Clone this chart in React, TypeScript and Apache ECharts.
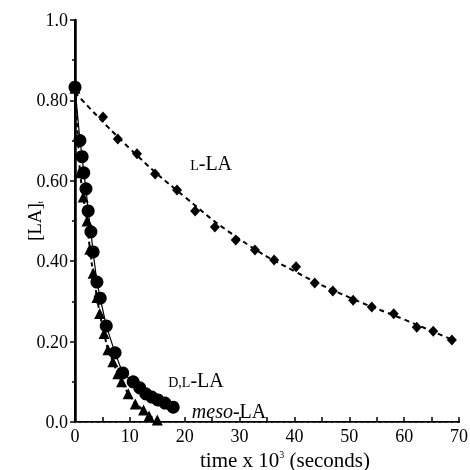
import React, { useEffect, useRef } from "react";
import * as echarts from "echarts";

const lLA: [number, number][] = [
  [5.1, 0.759], [7.8, 0.704], [11.3, 0.667], [14.6, 0.617], [18.6, 0.577],
  [21.9, 0.525], [25.5, 0.485], [29.3, 0.453], [32.8, 0.428], [36.3, 0.403],
  [40.3, 0.386], [43.7, 0.346], [47.0, 0.326], [50.7, 0.303], [54.1, 0.286],
  [58.1, 0.269], [62.3, 0.236], [65.3, 0.226], [68.7, 0.204],
];
const lFit: [number, number][] = [
  [0, 0.82], [10, 0.68], [20, 0.56], [30, 0.455], [40, 0.375],
  [50, 0.31], [60, 0.255], [68.7, 0.205],
];
const dlLA: [number, number][] = [
  [0, 0.833], [0.9, 0.70], [1.3, 0.66], [1.6, 0.62], [2.0, 0.58], [2.4, 0.525],
  [2.9, 0.473], [3.3, 0.423], [4.0, 0.348], [4.6, 0.308], [5.7, 0.239],
  [7.3, 0.172], [8.7, 0.122], [10.6, 0.10], [11.8, 0.085], [12.9, 0.07],
  [14.0, 0.062], [15.1, 0.055], [16.4, 0.047], [17.9, 0.037],
];
const mesoLA: [number, number][] = [
  [0, 0.83], [0.9, 0.62], [1.5, 0.56], [2.2, 0.50], [2.7, 0.43], [3.3, 0.37],
  [4.0, 0.31], [4.5, 0.27], [5.3, 0.22], [6.0, 0.18], [6.9, 0.15], [7.8, 0.12],
  [8.5, 0.10], [9.7, 0.07], [11.0, 0.045], [12.5, 0.03], [13.5, 0.015], [15.0, 0.005],
];
const yTickLabels = ["0.0", "0.20", "0.40", "0.60", "0.80", "1.0"];
const xTickLabels = ["0", "10", "20", "30", "40", "50", "60", "70"];
const annotations = [
  { text: "{sc|L}-LA", at: [21.0, 0.645] },
  { text: "{sc|D,L}-LA", at: [17.0, 0.105] },
  { text: "{it|meso}-LA", at: [21.3, 0.028] },
];

const FONT = "Liberation Serif";

export default function App() {
  const ref = useRef<HTMLDivElement>(null);
  useEffect(() => {
    if (!ref.current) return;
    const chart = echarts.init(ref.current, undefined, { renderer: "svg" });
    const option: any = {
      animation: false,
      grid: { left: 75, top: 20, right: 11, bottom: 48, outerBoundsMode: "none", containLabel: false },
      xAxis: [
        {
          type: "value", min: 0, max: 70, interval: 10,
          axisLine: { show: true, lineStyle: { color: "#000", width: 2 } },
          axisTick: { show: true, inside: true, length: 5, lineStyle: { color: "#000", width: 1.5 } },
          minorTick: { show: true, splitNumber: 2, length: 5, lineStyle: { color: "#000", width: 1.5 } },
          splitLine: { show: false },
          axisLabel: {
            color: "#000", fontFamily: FONT, fontSize: 18, lineHeight: 18, margin: 5,
            formatter: (v: number) => xTickLabels[Math.round(v / 10)] ?? "",
          },
          name: "time x 10{sup|3} (seconds)",
          nameLocation: "middle", nameGap: 27, nameMoveOverlap: false,
          nameTextStyle: {
            color: "#000", fontFamily: FONT, fontSize: 21, lineHeight: 21, padding: [0, 0, 0, 36],
            rich: { sup: { fontSize: 10, lineHeight: 21, verticalAlign: "top", fontFamily: FONT, color: "#000", padding: [0, 0, 8, 0] } },
          },
        },
        {
          type: "value", min: 0, max: 70, position: "top",
          axisLine: { show: true, lineStyle: { color: "#444", width: 1, type: [4, 2] } },
          axisTick: { show: false }, axisLabel: { show: false }, splitLine: { show: false },
        },
      ],
      yAxis: [
        {
          type: "value", min: 0, max: 1, interval: 0.2,
          axisLine: { show: true, lineStyle: { color: "#000", width: 2 } },
          axisTick: { show: true, length: 5, lineStyle: { color: "#000", width: 1.5 } },
          minorTick: { show: true, splitNumber: 2, length: 3, lineStyle: { color: "#000", width: 1.5 } },
          splitLine: { show: false },
          axisLabel: {
            color: "#000", fontFamily: FONT, fontSize: 18, margin: 7,
            formatter: (v: number) => yTickLabels[Math.round(v / 0.2)] ?? "",
          },
          name: "[LA]{sub|t}",
          nameLocation: "middle", nameGap: 31, nameRotate: 90, nameMoveOverlap: false,
          nameTextStyle: {
            color: "#000", fontFamily: FONT, fontSize: 19,
            rich: { sub: { fontSize: 8, fontFamily: FONT, color: "#000", verticalAlign: "bottom" } },
          },
        },
        {
          type: "value", min: 0, max: 1, position: "right",
          axisLine: { show: true, lineStyle: { color: "#000", width: 2.5 } },
          axisTick: { show: false }, axisLabel: { show: false }, splitLine: { show: false },
        },
      ],
      series: [
        {
          type: "line", data: lFit, smooth: true, showSymbol: false, symbol: "none",
          lineStyle: { color: "#000", width: 2, type: [5, 4] }, z: 2,
        },
        {
          type: "scatter", data: lLA, symbol: "diamond", symbolSize: [10, 11],
          itemStyle: { color: "#000", opacity: 1 }, z: 3,
        },
        {
          type: "line", data: mesoLA, symbol: "triangle", symbolSize: 11,
          itemStyle: { color: "#000" },
          lineStyle: { color: "#000", width: 2, type: [4, 3] }, z: 3,
        },
        {
          type: "line", data: dlLA, symbol: "circle", symbolSize: 13,
          itemStyle: { color: "#000" },
          lineStyle: { color: "#000", width: 1.2 }, z: 4,
        },
      ],
    };
    chart.setOption(option);
    const graphic = annotations.map((a) => {
      const p = chart.convertToPixel({ gridIndex: 0 }, a.at) as number[];
      return {
        type: "text", x: p[0], y: p[1],
        style: {
          text: a.text, fill: "#000", fontFamily: FONT, fontSize: 20,
          verticalAlign: "middle", align: "left",
          rich: {
            sc: { fontSize: 14, fontFamily: FONT, fill: "#000", verticalAlign: "bottom" },
            it: { fontSize: 20, fontStyle: "italic", fontFamily: FONT, fill: "#000" },
          },
        },
      };
    });
    chart.setOption({ graphic });
    return () => chart.dispose();
  }, []);
  return <div ref={ref} style={{ position: "fixed", left: 0, top: 0, width: 470, height: 470 }} />;
}
